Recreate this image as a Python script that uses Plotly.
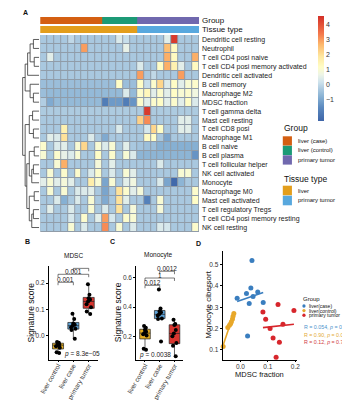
import numpy as np
import plotly.graph_objects as go

W, H = 350, 400
FONT = "Liberation Sans, Arial, sans-serif"

# ---------------- data: panel A heatmap ----------------
row_names = [
    "Dendritic cell resting", "Neutrophil", "T cell CD4 posi naive",
    "T cell CD4 posi memory activated", "Dendritic cell activated", "B cell memory",
    "Macrophage M2", "MDSC fraction", "T cell gamma delta", "Mast cell resting",
    "T cell CD8 posi", "Macrophage M1", "B cell naive", "B cell plasma",
    "T cell follicular helper", "NK cell activated", "Monocyte", "Macrophage M0",
    "Mast cell activated", "T cell regulatory Tregs", "T cell CD4 posi memory resting",
    "NK cell resting",
]

heat_values = [
    [-0.3,-0.3,-0.3,-0.3, 0.0,-0.3,-0.3,-0.3,-0.3,-0.3,-0.3, 0.4, 0.1,-0.3,-0.3,-0.3,-0.3,-0.3, 0.5, 4.4,-0.3,-0.3,-0.3],
    [-0.3,-0.3,-0.3,-0.3,-0.3,-0.3, 3.0,-0.3,-0.3,-0.3,-0.3,-0.3, 0.6,-0.3,-0.3,-0.3,-0.3,-0.3, 2.6, 1.3,-0.3,-0.3,-0.3],
    [-0.3, 0.5,-0.3,-0.3,-0.3,-0.3,-0.3,-0.3,-0.3,-0.3,-0.3,-0.3,-0.3,-0.3,-0.3,-0.3,-0.3,-0.3, 2.8, 1.3,-0.3,-0.3, 2.8],
    [-0.3,-0.3,-0.3,-0.3,-0.3,-0.3,-0.3,-0.3,-0.3,-0.3,-0.3,-0.3,-0.3,-0.3, 0.4,-0.3,-0.3, 1.2, 2.8, 1.6, 0.5,-0.3, 1.3],
    [-0.3,-0.3,-0.3,-0.3,-0.3,-0.3,-0.3,-0.3,-0.3,-0.3,-0.3,-0.3,-0.3,-0.3, 3.0,-0.3, 0.0,-0.3,-0.3,-0.3, 3.0,-0.3,-0.3],
    [-0.5,-0.5,-0.5,-0.5,-0.5,-0.5,-0.5,-0.5,-0.5,-0.5,-0.5, 1.2,-0.5,-0.5, 1.2, 0.1, 1.1, 2.2, 0.4, 1.2, 0.5, 1.0, 1.1],
    [-0.5,-0.6,-0.6,-0.6,-0.6,-0.6,-0.6,-0.6,-0.6,-0.6,-0.6,-0.6, 0.4,-0.6, 1.1, 1.4, 0.5, 1.1, 0.5, 1.2, 1.0, 1.1, 0.8],
    [-0.2,-0.9,-0.6,-0.6,-0.6,-0.6,-0.6,-0.6,-0.6,-1.8,-1.2,-1.2,-1.8,-1.3, 1.1, 0.5, 1.1, 1.2, 0.5, 1.1, 0.5, 1.2, 0.4],
    [-0.25,-0.25,-0.25,-0.25,-0.25,-0.25,-0.25,-0.25,-0.25,-0.25,-0.25,-0.25,-0.25,-0.25,-0.25, 4.4,-0.25,-0.25,-0.25,-0.25,-0.25,-0.25,-0.25],
    [-0.3,-0.3,-0.3,-0.3,-0.3,-0.3,-0.3,-0.3,-0.3,-0.3,-0.3,-0.3,-0.3,-0.3, 2.3, 3.2,-0.3,-0.3,-0.3,-0.3, 0.5, 0.5,-0.3],
    [-0.3,-0.3,-0.3, 1.6,-0.3,-0.3,-0.3,-0.3,-0.3,-0.3,-0.3, 0.4,-0.3,-0.3,-0.3, 0.3, 2.2, 1.2,-0.3,-0.3, 0.5, 0.5,-0.3],
    [-0.3, 0.5, 0.4, 2.0,-0.3,-0.3,-0.3, 0.4,-0.3,-0.9,-0.3,-0.3,-0.3,-0.3,-0.3, 1.3, 1.2,-0.3,-1.0,-0.3,-0.3,-0.3,-0.3],
    [ 1.1,-0.3, 0.4, 0.5,-0.3, 1.0, 2.2,-0.3, 1.0, 0.4, 1.0,-0.3, 0.5,-0.3,-0.4,-0.5,-0.5,-0.8,-0.8,-0.8,-0.8,-0.8,-0.8],
    [ 1.0,-0.3, 1.1, 0.6, 0.4, 1.0,-0.3,-0.3, 1.2,-0.3, 1.1,-0.3, 1.0, 0.4,-0.7,-0.7,-0.7,-0.7,-0.7,-0.7,-0.7,-0.7,-1.3],
    [-0.3,-0.3, 1.0, 2.8,-0.3,-0.3,-0.3,-0.3, 0.9,-0.3, 0.5,-0.3,-0.3,-0.3,-0.3,-0.3,-0.3, 0.4,-0.3,-0.3,-0.3,-0.3,-0.3],
    [-0.3, 1.0,-0.3, 1.1,-0.3, 1.1,-0.3, 0.4, 1.1,-0.3, 0.4,-0.3, 1.0, 0.5,-0.3,-0.3,-0.3,-0.3,-0.3,-0.3, 1.0, 1.0,-0.3],
    [ 0.5, 1.0, 0.5, 0.9, 0.5,-0.3,-0.3, 1.7, 1.0,-1.0, 1.0,-0.3, 0.5, 0.8,-0.3,-0.3,-0.3, 0.4,-1.0,-2.3,-0.7,-0.3,-0.3],
    [-0.3, 1.0,-0.3, 1.0,-0.3, 0.4, 0.4, 0.5,-0.3,-1.0,-0.3, 2.0, 1.1, 0.5, 0.9,-0.3,-0.3,-0.3,-0.3,-0.3,-0.3,-0.3, 1.1],
    [-0.3,-0.3, 0.4,-0.8,-0.3, 0.4,-0.3, 1.0,-0.3,-0.9,-0.3, 2.0, 0.5,-0.3,-0.3,-1.7,-0.3, 1.0,-0.3,-0.3,-0.3,-0.3, 1.2],
    [-0.3, 0.5,-0.3,-0.3, 0.4,-0.3,-0.3, 1.0,-0.3, 0.4,-0.3, 2.0,-0.3, 0.9,-0.3,-0.3,-0.3, 0.9,-0.3,-0.3,-0.3,-0.3,-0.3],
    [-0.3,-0.3,-0.3,-0.3, 0.3,-0.3, 1.1,-0.3, 0.5, 3.0, 0.3,-0.3, 1.1, 1.0,-0.3,-0.3,-0.3,-0.3,-0.3,-0.3,-0.3,-0.3,-0.3],
    [-0.3,-0.3,-0.3,-0.3, 1.0,-0.3, 0.4,-0.3,-0.3, 3.2,-0.3, 1.0,-0.3, 0.4,-0.3,-0.3,-0.3, 0.4, 0.3,-0.3,-0.3,-0.3, 1.1],
]

col_groups = ["liver (case)"] * 9 + ["liver (control)"] * 5 + ["primary tumor"] * 9
col_tissue = ["liver"] * 14 + ["primary tumor"] * 9

group_levels = ["liver (case)", "liver (control)", "primary tumor"]
group_colors = ["#D45F12", "#1C9A76", "#7068AE"]
tissue_levels = ["liver", "primary tumor"]
tissue_colors = ["#E39E1C", "#58A8DE"]

heat_ticks = [-1, 0, 1, 2, 3, 4]
heat_range = [-2.4, 4.6]

# row dendrogram (scipy-like linkage: child a, child b, height)
dendro_links = [
    (0, 1, 0.35), (2, 3, 0.30), (22, 23, 0.55), (24, 4, 0.70),
    (6, 7, 0.35), (5, 26, 0.55), (25, 27, 0.85),
    (8, 9, 0.40), (10, 11, 0.35), (29, 30, 0.60),
    (12, 13, 0.30), (14, 15, 0.35), (33, 16, 0.45), (32, 34, 0.60),
    (17, 18, 0.30), (19, 20, 0.35), (37, 21, 0.45), (36, 38, 0.60),
    (35, 39, 0.75), (31, 40, 0.85), (28, 41, 1.00),
]

# ---------------- data: panels B, C, D (per sample) ----------------
box_categories = ["liver control", "liver case", "primary tumor"]
mdsc_control = [-0.066, -0.063, -0.046, -0.040, -0.036, -0.033, -0.029, -0.027, -0.024]
mono_control = [0.108, 0.115, 0.205, 0.215, 0.222, 0.232, 0.245, 0.258, 0.270]
mdsc_case = [0.042, 0.038, 0.063, 0.022, -0.012, 0.046, 0.032, 0.083, 0.026]
mono_case = [0.520, 0.390, 0.372, 0.365, 0.342, 0.350, 0.318, 0.322, 0.165]
mdsc_tumor = [0.137, 0.195, 0.092, 0.119, 0.142, 0.130, 0.082, 0.108, 0.155]
mono_tumor = [0.313, 0.285, 0.243, 0.155, 0.135, 0.065, 0.277, 0.200, 0.220]

box_fill = ["#E5AE22", "#5FA3D7", "#D8352F"]
mdsc_brackets = [(0, 1, 0.2026, "0.001"), (0, 2, 0.233, "0.001"), (1, 2, 0.2555, "8.2e\u221205")]
mono_brackets = [(0, 1, 0.548, "0.012"), (0, 2, 0.598, "1"), (1, 2, 0.644, "0.0012")]
mdsc_kw = "<i>p</i> = 8.3e\u221205"
mono_kw = "<i>p</i> = 0.0038"

scatter_labels = ["liver(case)", "liver(control)", "primary tumor"]
scatter_colors = ["#3A7EBF", "#E8A82A", "#D7262C"]
stat_colors = ["#4C93CC", "#E3AA35", "#D03A3E"]
stat_texts = ["R = 0.054, <i>p</i> = 0.89", "R = 0.90, <i>p</i> = 0.011", "R = 0.12, <i>p</i> = 0.76"]


def px(x):
    return x / W


def py(y):
    return 1 - y / H


fig = go.Figure()

# ---------------- panel A ----------------
cs_vals = [-2.4, -1.5, -0.8, -0.3, 0.2, 0.7, 1.2, 1.9, 2.7, 3.4, 4.6]
cs_cols = ["#3E65A8", "#5B89BF", "#86B0D3", "#A9C8DF", "#CFE3ED", "#EEF5E6",
           "#FFFDC6", "#FEE8A0", "#FDB86C", "#F4794C", "#D32F27"]
colorscale = [[(v - heat_range[0]) / (heat_range[1] - heat_range[0]), c] for v, c in zip(cs_vals, cs_cols)]

n_rows, n_cols = len(heat_values), len(heat_values[0])
assert all(len(r) == n_cols for r in heat_values) and n_rows == len(row_names)

fig.add_trace(go.Heatmap(
    z=heat_values, x=list(range(n_cols)), y=list(range(n_rows)),
    colorscale=colorscale, zmin=heat_range[0], zmax=heat_range[1],
    xgap=1, ygap=1, xaxis="x", yaxis="y", hoverinfo="skip",
    colorbar=dict(x=px(312), xanchor="left", y=py(8), yanchor="top",
                  len=105 / H, lenmode="fraction", thickness=6, thicknessmode="pixels",
                  outlinewidth=0, tickvals=heat_ticks, ticks="", xpad=0, ypad=0,
                  tickfont=dict(size=7, color="#333", family=FONT)),
))

# annotation bars
codes = [[group_levels.index(g) for g in col_groups],
         [len(group_levels) + tissue_levels.index(t) for t in col_tissue]]
all_cols = group_colors + tissue_colors
nc = len(all_cols)
ann_scale = []
for i, c in enumerate(all_cols):
    ann_scale += [[i / nc, c], [(i + 1) / nc, c]]
fig.add_trace(go.Heatmap(
    z=codes, x=list(range(n_cols)), y=[0, 1], colorscale=ann_scale,
    zmin=-0.5, zmax=nc - 0.5, showscale=False, ygap=2,
    xaxis="x2", yaxis="y2", hoverinfo="skip",
))

# dendrogram
pos = {i: float(i) for i in range(n_rows)}
hgt = {i: 0.0 for i in range(n_rows)}
dx, dy = [], []
for k, (a, b, h) in enumerate(dendro_links):
    node = n_rows + k
    for c in (a, b):
        dx += [hgt[c], h, None]
        dy += [pos[c], pos[c], None]
    dx += [h, h, None]
    dy += [pos[a], pos[b], None]
    pos[node] = (pos[a] + pos[b]) / 2
    hgt[node] = h
fig.add_trace(go.Scatter(x=dx, y=dy, mode="lines", line=dict(color="#333", width=0.8),
                         xaxis="x3", yaxis="y3", hoverinfo="skip", showlegend=False))

# ---------------- panels B, C ----------------
def add_boxes(groups, xa, ya):
    for i, vals in enumerate(groups):
        fig.add_trace(go.Box(
            x=[i] * len(vals), y=vals, xaxis=xa, yaxis=ya, width=0.72,
            fillcolor=box_fill[i], line=dict(color="#222", width=0.7),
            boxpoints="all", jitter=0.55, pointpos=0, whiskerwidth=0,
            marker=dict(color="black", size=4), showlegend=False, hoverinfo="skip",
        ))


add_boxes([mdsc_control, mdsc_case, mdsc_tumor], "x4", "y4")
add_boxes([mono_control, mono_case, mono_tumor], "x5", "y5")

# ---------------- panel D ----------------
pairs = [(mdsc_case, mono_case), (mdsc_control, mono_control), (mdsc_tumor, mono_tumor)]
for (xs, ys), col in zip(pairs, scatter_colors):
    xs_a, ys_a = np.array(xs), np.array(ys)
    slope, icpt = np.polyfit(xs_a, ys_a, 1)
    xl = np.array([xs_a.min(), xs_a.max()])
    fig.add_trace(go.Scatter(x=xs, y=ys, mode="markers", marker=dict(color=col, size=5),
                             xaxis="x6", yaxis="y6", showlegend=False, hoverinfo="skip",
                             cliponaxis=False))
    fig.add_trace(go.Scatter(x=xl, y=slope * xl + icpt, mode="lines", line=dict(color=col, width=1.6),
                             xaxis="x6", yaxis="y6", showlegend=False, hoverinfo="skip",
                             cliponaxis=False))

# ---------------- layout ----------------
hidden = dict(visible=False, showgrid=False, zeroline=False)
axis_base = dict(showline=True, linecolor="black", linewidth=0.8, ticks="outside",
                 ticklen=2, tickwidth=0.8, tickcolor="black", showgrid=False, zeroline=False)
small_tick = dict(size=6.5, color="#333", family=FONT)
cat_tick = dict(size=6.5, color="#333", family=FONT)

layout = dict(
    width=W, height=H, margin=dict(l=0, r=0, t=0, b=0), autosize=False,
    paper_bgcolor="white", plot_bgcolor="white", showlegend=False,
    font=dict(family=FONT, color="#111"),
    xaxis=dict(domain=[px(23), px(188)], range=[-0.5, n_cols - 0.5], anchor="y", **hidden),
    yaxis=dict(domain=[py(224), py(27)], range=[n_rows - 0.5, -0.5], anchor="x", side="right",
               tickvals=list(range(n_rows)), ticktext=row_names, ticks="", showgrid=False,
               zeroline=False, showline=False, ticklabelstandoff=2,
               tickfont=dict(size=7, color="#1a1a1a", family=FONT)),
    xaxis2=dict(domain=[px(23), px(188)], range=[-0.5, n_cols - 0.5], anchor="y2", **hidden),
    yaxis2=dict(domain=[py(25.5), py(8)], range=[1.5, -0.5], anchor="x2", side="right",
                tickvals=[0, 1], ticktext=["Group", "Tissue type"], ticks="", showgrid=False,
                zeroline=False, showline=False, ticklabelstandoff=2,
                tickfont=dict(size=8, color="#111", family=FONT)),
    xaxis3=dict(domain=[px(4), px(22)], range=[1.05, 0], anchor="y3", **hidden),
    yaxis3=dict(domain=[py(224), py(27)], range=[n_rows - 0.5, -0.5], anchor="x3", **hidden),
    xaxis4=dict(domain=[px(32), px(83)], range=[-0.6, 2.6], anchor="y4", tickvals=[0, 1, 2],
                ticktext=box_categories, tickangle=-60, tickfont=cat_tick, ticklabelstandoff=-3,
                **axis_base),
    yaxis4=dict(domain=[py(351.5), py(258)], range=[-0.0903, 0.2645], anchor="x4",
                tickvals=[0, 0.1, 0.2], ticktext=["0.0", "0.1", "0.2"], tickfont=small_tick,
                **axis_base),
    xaxis5=dict(domain=[px(122.7), px(171.7)], range=[-0.6, 2.6], anchor="y5", tickvals=[0, 1, 2],
                ticktext=box_categories, tickangle=-60, tickfont=cat_tick, ticklabelstandoff=-3,
                **axis_base),
    yaxis5=dict(domain=[py(351.5), py(258)], range=[0.042, 0.68], anchor="x5",
                tickvals=[0.2, 0.4, 0.6], ticktext=["0.2", "0.4", "0.6"], tickfont=small_tick,
                **axis_base),
    xaxis6=dict(domain=[px(212.5), px(290)], range=[-0.065, 0.207], anchor="y6",
                tickvals=[0, 0.1, 0.2], ticktext=["0.0", "0.1", "0.2"], tickfont=small_tick,
                ticklabelstandoff=-1, **axis_base),
    yaxis6=dict(domain=[py(351.5), py(243)], range=[0.054, 0.5645], anchor="x6",
                tickvals=[0.1, 0.2, 0.3, 0.4, 0.5], ticktext=["0.1", "0.2", "0.3", "0.4", "0.5"],
                tickfont=small_tick, **axis_base),
)

shapes = [dict(type="rect", xref="x", yref="y", x0=-0.5, x1=n_cols - 0.5, y0=-0.5, y1=n_rows - 0.5,
               fillcolor="#909CA8", line=dict(width=0), layer="below")]
annotations = []


def text(s, x, y, size, color="#111", xanchor="left", yanchor="middle", angle=0):
    annotations.append(dict(text=s, x=px(x), y=py(y), xref="paper", yref="paper",
                            xanchor=xanchor, yanchor=yanchor, showarrow=False, textangle=angle,
                            font=dict(size=size, color=color, family=FONT)))


# panel letters
text("<b>A</b>", 3, 5, 7)
text("<b>B</b>", 5, 233, 7)
text("<b>C</b>", 93, 233, 7)
text("<b>D</b>", 183, 235, 7)

# heatmap annotation legend
text("Group", 274, 120, 8.5)
for i, (lab, col) in enumerate(zip(group_levels, group_colors)):
    y0 = 128.3 + 9.5 * i
    shapes.append(dict(type="rect", xref="paper", yref="paper", x0=px(275), x1=px(284.5),
                       y0=py(y0 + 9.3), y1=py(y0), fillcolor=col, line=dict(width=0)))
    text(lab, 289, y0 + 4.7, 6)
text("Tissue type", 274, 170.7, 8.5)
for i, (lab, col) in enumerate(zip(tissue_levels, tissue_colors)):
    y0 = 177.7 + 10 * i
    shapes.append(dict(type="rect", xref="paper", yref="paper", x0=px(275), x1=px(284.5),
                       y0=py(y0 + 9.6), y1=py(y0), fillcolor=col, line=dict(width=0)))
    text(lab, 289, y0 + 4.8, 6)

# B and C titles / axis titles / brackets
text("MDSC", 58, 247, 6.5, xanchor="center")
text("Monocyte", 146, 247, 6.5, xanchor="center")
text("Signature score", 14, 304, 8.5, xanchor="center", angle=-90)
text("Signature score", 104, 304, 8.5, xanchor="center", angle=-90)


def brackets(items, xa, ya, drop, lift):
    for a, b, yv, lab in items:
        shapes.append(dict(type="path", xref=xa, yref=ya,
                           path=f"M {a},{yv - drop} L {a},{yv} L {b},{yv} L {b},{yv - drop}",
                           line=dict(color="#222", width=0.6)))
        annotations.append(dict(text=lab, x=(a + b) / 2, y=yv + lift, xref=xa, yref=ya,
                                showarrow=False, xanchor="center", yanchor="middle",
                                font=dict(size=6.5, color="#222", family=FONT)))


brackets(mdsc_brackets, "x4", "y4", 0.011, 0.012)
brackets(mono_brackets, "x5", "y5", 0.02, 0.018)
annotations.append(dict(text=mdsc_kw, x=1.55, y=-0.069, xref="x4", yref="y4", showarrow=False,
                        xanchor="center", font=dict(size=6.5, color="#222", family=FONT)))
annotations.append(dict(text=mono_kw, x=0.65, y=0.072, xref="x5", yref="y5", showarrow=False,
                        xanchor="center", font=dict(size=6.5, color="#222", family=FONT)))

# D titles and legend
text("Monocyte cibersort", 197, 297, 8, xanchor="center", angle=-90)
text("MDSC fraction", 251, 366, 7.5, xanchor="center")
text("Group", 294, 290.5, 6)
for i, (lab, col) in enumerate(zip(scatter_labels, scatter_colors)):
    yc = 298.0 + 4.6 * i
    shapes.append(dict(type="circle", xref="paper", yref="paper", x0=px(295.3), x1=px(298.7),
                       y0=py(yc + 1.7), y1=py(yc - 1.7), fillcolor=col, line=dict(width=0)))
    text(lab, 300, yc, 5)
for i, (s, col) in enumerate(zip(stat_texts, stat_colors)):
    text(s, 295, 319 + 7.5 * i, 5.3, color=col)

layout["shapes"] = shapes
layout["annotations"] = annotations
fig.update_layout(**layout)
fig.write_html("out.html")
